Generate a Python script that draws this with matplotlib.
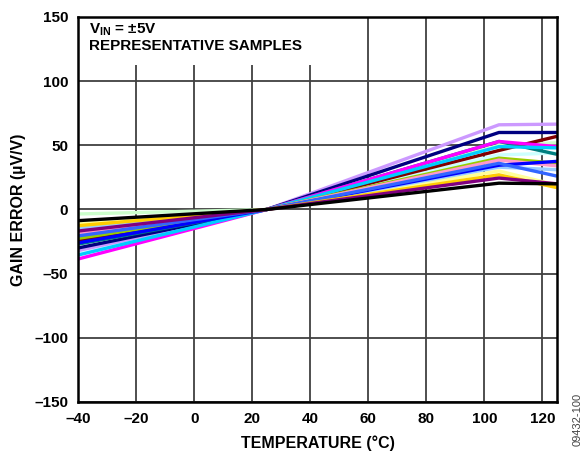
import numpy as np
import matplotlib.pyplot as plt
from matplotlib.patches import Rectangle

plt.rcParams['font.family'] = ['Liberation Sans', 'DejaVu Sans']
plt.rcParams['font.weight'] = 'bold'
plt.rcParams['mathtext.fontset'] = 'custom'
plt.rcParams['mathtext.bf'] = 'Liberation Sans:bold'
plt.rcParams['mathtext.rm'] = 'Liberation Sans:bold'

# temperature points (°C)
temps = [-40, 25, 105, 125]

# gain error (µV/V) per sample at each temperature
lavender = [-32, 0, 66, 66.5]
navy = [-30, 0, 60, 60]
teal = [-27, 0, 53, 43]
magenta = [-38.6, 0, 53, 49]
dark_red = [-24, 0, 46, 57]
cyan = [-35.5, 0, 49, 48]
pale_green = [-3.5, 0, 50, 52]
light_cyan = [-33.5, 0, 42.5, 44]
yellow_green = [-22.5, 0, 40, 36]
pink = [-18.6, 0, 38.5, 34]
blue = [-26, 0, 34.5, 37.5]
royal_blue = [-20.6, 0, 36, 26]
light_blue = [-14.7, 0, 33, 31]
light_yellow = [-10.5, 0, 30, 19]
gold = [-12.6, 0, 27, 17]
purple = [-16.8, 0, 24.5, 20]
black = [-8.7, 0, 20.5, 20]

series = [
    (pale_green, '#ccffcc'),
    (light_cyan, '#ccffff'),
    (light_yellow, '#ffff99'),
    (light_blue, '#99ccff'),
    (lavender, '#cc99ff'),
    (navy, '#000080'),
    (teal, '#008080'),
    (dark_red, '#800000'),
    (magenta, '#ff00ff'),
    (cyan, '#00ccff'),
    (yellow_green, '#99cc00'),
    (pink, '#ff99cc'),
    (blue, '#0000ff'),
    (royal_blue, '#3366ff'),
    (gold, '#ffcc00'),
    (purple, '#800080'),
    (black, '#000000'),
]

fig = plt.figure(figsize=(5.87, 4.53), dpi=100)
ax = fig.add_axes([0.1329, 0.1126, 0.816, 0.8499])

for vals, col in series:
    ax.plot(temps, vals, color=col, lw=2.4, solid_capstyle='butt', zorder=3)

ax.set_xlim(-40, 125)
ax.set_ylim(-150, 150)
xt = [-40, -20, 0, 20, 40, 60, 80, 100, 120]
yt = [-150, -100, -50, 0, 50, 100, 150]
ax.set_xticks(xt)
ax.set_yticks(yt)
ax.set_xticklabels([str(v).replace('-', '\u2013') for v in xt], fontsize=11, fontweight='bold')
ax.set_yticklabels([str(v).replace('-', '\u2013') for v in yt], fontsize=11, fontweight='bold')
ax.tick_params(length=0, pad=7)
ax.grid(True, color='#404040', lw=1.3, zorder=1)
for s in ax.spines.values():
    s.set_linewidth(1.8)
    s.set_zorder(4)

ax.set_xlabel('TEMPERATURE (°C)', fontsize=11.5, fontweight='bold', labelpad=7)
ax.set_ylabel('GAIN ERROR (µV/V)', fontsize=11.5, fontweight='bold', labelpad=6)

# white block behind the note text
ax.add_patch(Rectangle((0.0, 0.875), 0.5, 0.125, transform=ax.transAxes,
                       facecolor='white', edgecolor='none', zorder=2))
ax.text(0.022, 0.99, r'V$_{\mathbf{IN}}$ = ±5V', transform=ax.transAxes, fontsize=11,
        fontweight='bold', va='top', ha='left', zorder=5)
ax.text(0.022, 0.943, 'REPRESENTATIVE SAMPLES', transform=ax.transAxes, fontsize=11,
        fontweight='bold', va='top', ha='left', zorder=5)

fig.text(0.984, 0.075, '09432-100', rotation=90, fontsize=8, fontweight='normal',
         color='#444444', ha='center', va='center')

fig.savefig('out.png', dpi=100)
